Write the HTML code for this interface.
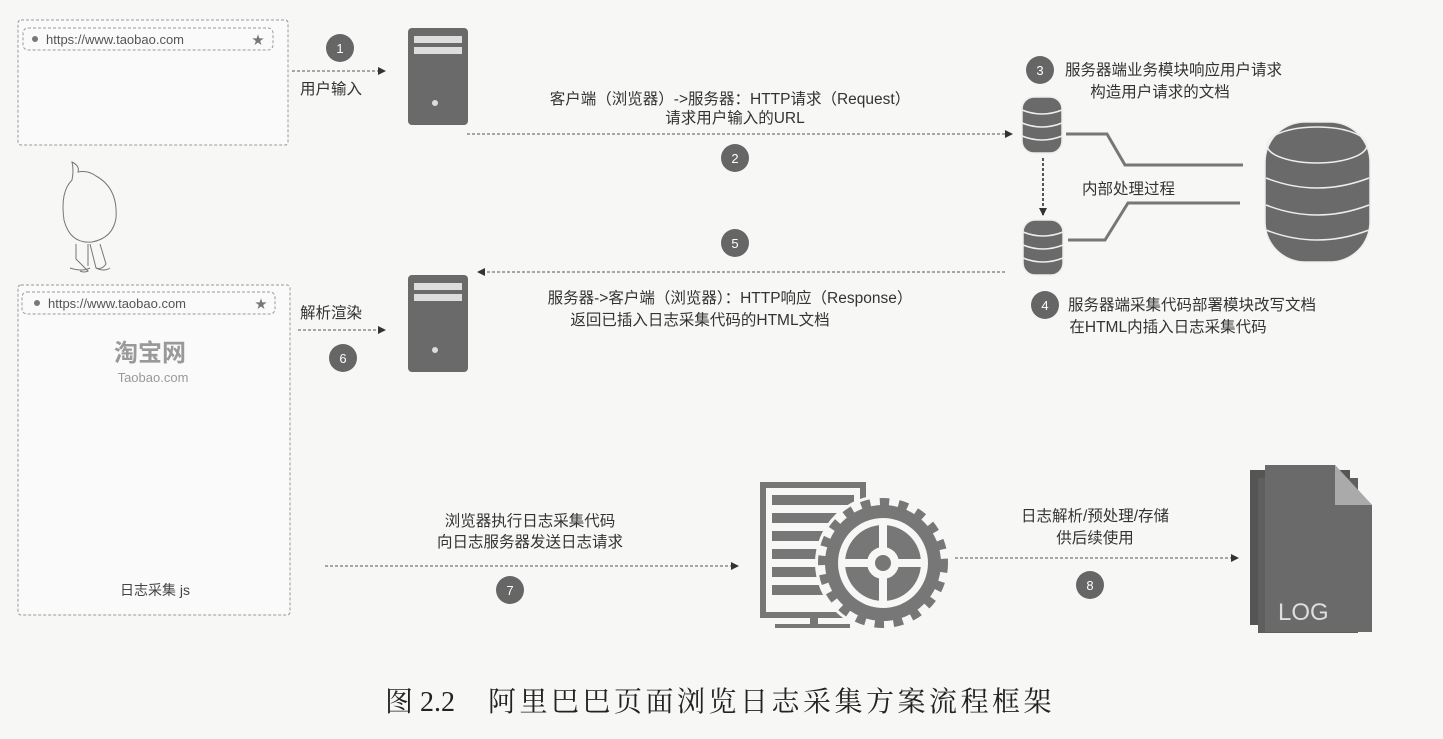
<!DOCTYPE html>
<html><head><meta charset="utf-8"><style>
html,body{margin:0;padding:0;background:#f7f7f5;}
svg{display:block;font-family:"Liberation Sans","Noto Sans CJK SC",sans-serif;}
</style></head><body>
<svg width="1443" height="739" viewBox="0 0 1443 739">
<defs>
<marker id="ar" markerWidth="8" markerHeight="8" refX="7" refY="4" orient="auto" markerUnits="userSpaceOnUse"><path d="M0,0 L8,4 L0,8 Z" fill="#333"/></marker>
</defs>
<rect width="1443" height="739" fill="#f7f7f5"/>
<rect x="18" y="20" width="270" height="125" rx="3" fill="#fafafa" stroke="#999" stroke-dasharray="3,2"/>
<rect x="23" y="28" width="250" height="22" rx="5" fill="#fafafa" stroke="#999" stroke-dasharray="3,2"/>
<circle cx="35" cy="39" r="3" fill="#777"/>
<text x="46" y="44" font-size="13" fill="#555">https://www.taobao.com</text>
<text x="252" y="44" font-size="12" fill="#777">★</text>
<rect x="18" y="285" width="272" height="330" rx="3" fill="#fafafa" stroke="#999" stroke-dasharray="3,2"/>
<rect x="22" y="292" width="253" height="22" rx="5" fill="#fafafa" stroke="#999" stroke-dasharray="3,2"/>
<circle cx="37" cy="303" r="3" fill="#777"/>
<text x="48" y="308" font-size="13" fill="#555">https://www.taobao.com</text>
<text x="255" y="308" font-size="12" fill="#777">★</text>
<text x="150" y="361" font-size="24" font-weight="bold" fill="#999" text-anchor="middle">淘宝网</text>
<text x="153" y="382" font-size="13" fill="#999" text-anchor="middle">Taobao.com</text>
<text x="155" y="595" font-size="14" fill="#444" text-anchor="middle">日志采集 js</text>
<g fill="none" stroke="#777" stroke-width="1">
<path d="M72,162 q8,4 6,10 q10,-2 18,4 q22,12 20,42 q-3,20 -24,24 q-22,2 -28,-22 q-4,-28 8,-40 q2,-10 0,-18 z"/>
<path d="M76,244 l0,15 q6,6 12,12 q-4,2 -8,0 M100,244 l6,20 q-4,6 -10,4 l-6,-24 M88,244 l0,22"/>
<path d="M70,268 q12,4 20,0 M96,268 q8,4 14,0"/>
</g>
<g font-size="13" fill="#fff" text-anchor="middle">
<circle cx="340" cy="48" r="14" fill="#666"/><text x="340" y="53">1</text>
<circle cx="735" cy="158" r="14" fill="#666"/><text x="735" y="163">2</text>
<circle cx="1040" cy="70" r="14" fill="#666"/><text x="1040" y="75">3</text>
<circle cx="1045" cy="305" r="14" fill="#666"/><text x="1045" y="310">4</text>
<circle cx="735" cy="243" r="14" fill="#666"/><text x="735" y="248">5</text>
<circle cx="343" cy="358" r="14" fill="#666"/><text x="343" y="363">6</text>
<circle cx="510" cy="590" r="14" fill="#666"/><text x="510" y="595">7</text>
<circle cx="1090" cy="585" r="14" fill="#666"/><text x="1090" y="590">8</text>
</g>
<g stroke="#555" stroke-width="1" stroke-dasharray="3,2" fill="none">
<line x1="292" y1="71" x2="385" y2="71" marker-end="url(#ar)"/>
<line x1="467" y1="134" x2="1012" y2="134" marker-end="url(#ar)"/>
<line x1="1005" y1="272" x2="478" y2="272" marker-end="url(#ar)"/>
<line x1="298" y1="330" x2="385" y2="330" marker-end="url(#ar)"/>
<line x1="325" y1="566" x2="738" y2="566" marker-end="url(#ar)"/>
<line x1="955" y1="558" x2="1238" y2="558" marker-end="url(#ar)"/>
<line x1="1043" y1="158" x2="1043" y2="215" stroke-width="2" marker-end="url(#ar)"/>
</g>
<g>
<rect x="408" y="28" width="60" height="97" rx="4" fill="#6a6a6a"/>
<rect x="414" y="36" width="48" height="7" fill="#ddd"/><rect x="414" y="47" width="48" height="7" fill="#ddd"/>
<circle cx="435" cy="103" r="3" fill="#ddd"/>
<rect x="408" y="275" width="60" height="97" rx="4" fill="#6a6a6a"/>
<rect x="414" y="283" width="48" height="7" fill="#ddd"/><rect x="414" y="294" width="48" height="7" fill="#ddd"/>
<circle cx="435" cy="350" r="3" fill="#ddd"/>
</g>
<g font-size="15.5" fill="#333">
<text x="300" y="94">用户输入</text>
<text x="300" y="318">解析渲染</text>
<text x="730" y="104" text-anchor="middle">客户端（浏览器）->服务器：HTTP请求（Request）</text>
<text x="735" y="123" text-anchor="middle">请求用户输入的URL</text>
<text x="730" y="303" text-anchor="middle">服务器->客户端（浏览器）：HTTP响应（Response）</text>
<text x="700" y="325" text-anchor="middle">返回已插入日志采集代码的HTML文档</text>
<text x="1065" y="75">服务器端业务模块响应用户请求</text>
<text x="1160" y="97" text-anchor="middle">构造用户请求的文档</text>
<text x="1082" y="194">内部处理过程</text>
<text x="1068" y="310">服务器端采集代码部署模块改写文档</text>
<text x="1168" y="332" text-anchor="middle">在HTML内插入日志采集代码</text>
<text x="530" y="526" text-anchor="middle">浏览器执行日志采集代码</text>
<text x="530" y="547" text-anchor="middle">向日志服务器发送日志请求</text>
<text x="1095" y="521" text-anchor="middle">日志解析/预处理/存储</text>
<text x="1095" y="543" text-anchor="middle">供后续使用</text>
</g>
<g fill="#6a6a6a" stroke="#eee" stroke-width="1.5">
<rect x="1022" y="97" width="40" height="56" rx="12"/>
<path d="M1022,110 q20,8 40,0 M1022,123 q20,8 40,0 M1022,136 q20,8 40,0" fill="none"/>
<rect x="1023" y="220" width="40" height="55" rx="12"/>
<path d="M1023,232 q20,8 40,0 M1023,245 q20,8 40,0 M1023,258 q20,8 40,0" fill="none"/>
</g>
<g fill="none" stroke="#777" stroke-width="3">
<polyline points="1066,134 1107,134 1125,165 1243,165"/>
<polyline points="1068,240 1105,240 1128,203 1240,203"/>
</g>
<g fill="#6a6a6a" stroke="#eee" stroke-width="1.5">
<rect x="1265" y="122" width="105" height="140" rx="40"/>
<ellipse cx="1317" cy="145" rx="50" ry="18" fill="none"/>
<path d="M1266,178 q51,20 103,0 M1266,205 q51,20 103,0 M1266,230 q51,20 103,0" fill="none"/>
</g>
<g>
<rect x="763" y="485" width="100" height="130" fill="#f7f7f5" stroke="#777" stroke-width="6"/>
<rect x="772" y="495" width="82" height="10" fill="#777"/>
<rect x="772" y="513" width="82" height="10" fill="#777"/>
<rect x="772" y="531" width="82" height="10" fill="#777"/>
<rect x="772" y="549" width="82" height="10" fill="#777"/>
<rect x="772" y="567" width="82" height="10" fill="#777"/>
<rect x="772" y="585" width="82" height="10" fill="#777"/>
<rect x="810" y="615" width="8" height="10" fill="#777"/>
<rect x="775" y="624" width="75" height="4" fill="#777"/>
<circle cx="883" cy="563" r="68" fill="#f7f7f5"/>
<circle cx="883" cy="563" r="58" fill="#777" stroke="#777" stroke-width="14" stroke-dasharray="9,9"/>
<circle cx="883" cy="563" r="45" fill="#f7f7f5"/>
<circle cx="883" cy="563" r="38" fill="#777"/>
<g stroke="#f7f7f5" stroke-width="8"><line x1="883" y1="525" x2="883" y2="601"/><line x1="845" y1="563" x2="921" y2="563"/></g>
<circle cx="883" cy="563" r="16" fill="#f7f7f5"/><circle cx="883" cy="563" r="8" fill="#777"/>
</g>
<g>
<rect x="1250" y="470" width="100" height="155" fill="#555"/>
<rect x="1258" y="478" width="100" height="155" fill="#5f5f5f"/>
<path d="M1265,465 L1335,465 L1372,505 L1372,632 L1265,632 Z" fill="#6a6a6a"/>
<path d="M1335,465 L1335,505 L1372,505 Z" fill="#aaa"/>
<text x="1278" y="620" font-size="24" fill="#ddd">LOG</text>
</g>
<g font-size="28" fill="#222" font-family="'Liberation Serif','Noto Serif CJK SC',serif">
<text x="385" y="711">图 2.2</text>
<text x="488" y="711" letter-spacing="3.5">阿里巴巴页面浏览日志采集方案流程框架</text>
</g>
</svg>
</body></html>
